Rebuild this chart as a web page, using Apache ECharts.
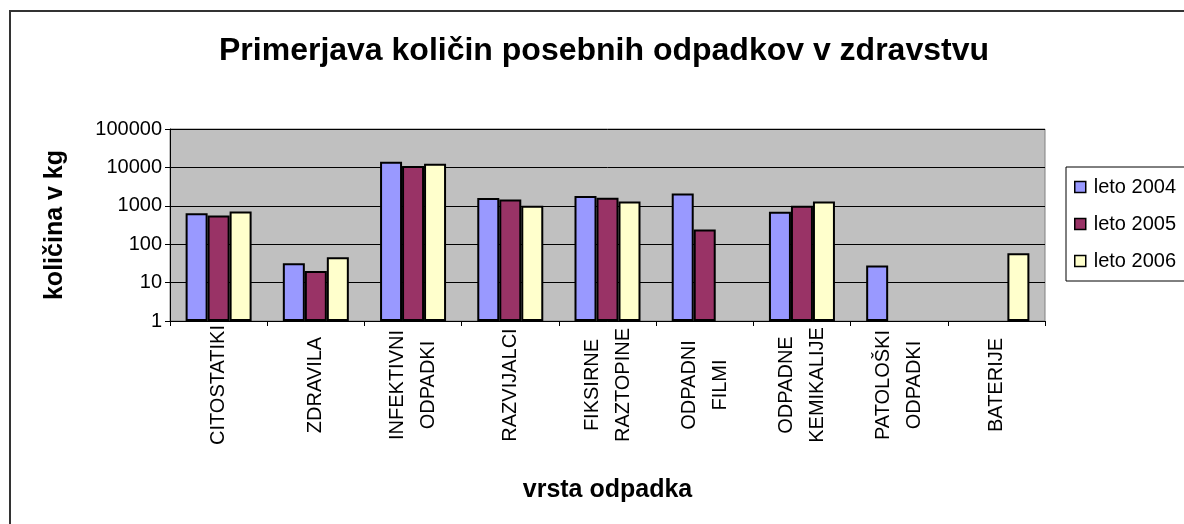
<!DOCTYPE html>
<html>
<head>
<meta charset="utf-8">
<title>Primerjava količin posebnih odpadkov v zdravstvu</title>
<script src="https://cdn.jsdelivr.net/npm/echarts@6/dist/echarts.min.js"></script>
<style>
  html, body { margin: 0; padding: 0; background: #fff; }
  #chart { width: 1184px; height: 524px; }
</style>
</head>
<body>
<div id="chart"></div>
<script>
// vrste odpadkov (kategorije)
const categories = ['CITOSTATIKI', 'ZDRAVILA', 'INFEKTIVNI\nODPADKI', 'RAZVIJALCI', 'FIKSIRNE\nRAZTOPINE',
  'ODPADNI\nFILMI', 'ODPADNE\nKEMIKALIJE', 'PATOLOŠKI\nODPADKI', 'BATERIJE'];
const seriesNames = ['leto 2004', 'leto 2005', 'leto 2006'];
// količine v kg, odčitane z grafa (null = ni podatka)
const leto2004 = [640, 32, 14000, 1600, 1800, 2100, 700, 28, null];
const leto2005 = [560, 20, 10800, 1450, 1630, 240, 1000, null, null];
const leto2006 = [710, 46, 12400, 1000, 1290, null, 1300, null, 58];
const colors = ['#9999FF', '#993366', '#FFFFCC'];

const font = '"Liberation Sans", Arial, sans-serif';

let myChart = echarts.init(document.getElementById('chart'));

function makeBar(name, data, color) {
  return {
    name: name,
    type: 'bar',
    data: data,
    barWidth: 22,
    barGap: '0%',
    itemStyle: {
      color: color,
      borderColor: '#000',
      borderWidth: 2
    }
  };
}

myChart.setOption({
  animation: false,
  textStyle: { fontFamily: font },
  title: {
    text: 'Primerjava količin posebnih odpadkov v zdravstvu',
    left: 599,
    top: 30,
    textAlign: 'center',
    textStyle: { fontFamily: font, fontSize: 32, fontWeight: 'bold', color: '#000' }
  },
  graphic: [{
    type: 'rect',
    shape: { x: 10, y: 11, width: 1300, height: 700 },
    style: { fill: 'none', stroke: '#333', lineWidth: 2 },
    silent: true
  }],
  legend: {
    orient: 'vertical',
    left: 1066,
    top: 167,
    data: seriesNames,
    icon: 'rect',
    itemWidth: 11,
    itemHeight: 11,
    itemGap: 17,
    padding: [10, 20, 10, 8],
    borderColor: '#000',
    borderWidth: 1,
    backgroundColor: '#fff',
    itemStyle: { borderColor: '#000', borderWidth: 1.5 },
    textStyle: { fontFamily: font, fontSize: 20, color: '#000', padding: [0, 0, 0, 3] }
  },
  grid: {
    left: 170,
    right: 139,
    top: 129,
    bottom: 203,
    show: true,
    backgroundColor: '#C0C0C0',
    borderColor: '#808080',
    borderWidth: 1,
    outerBoundsMode: 'none'
  },
  xAxis: {
    type: 'category',
    data: categories,
    name: 'vrsta odpadka',
    nameLocation: 'middle',
    nameGap: 157,
    nameTextStyle: { fontFamily: font, fontSize: 25, fontWeight: 'bold', color: '#000' },
    axisLine: { show: true, lineStyle: { color: '#000', width: 1 } },
    axisTick: { show: true, length: 5, alignWithLabel: false, lineStyle: { color: '#000' } },
    splitLine: { show: false },
    axisLabel: {
      interval: 0,
      rotate: 90,
      margin: 64,
      align: 'center',
      verticalAlign: 'middle',
      fontFamily: font,
      fontSize: 20,
      lineHeight: 31,
      color: '#000'
    }
  },
  yAxis: {
    type: 'log',
    logBase: 10,
    min: 1,
    max: 100000,
    name: 'količina v kg',
    nameLocation: 'middle',
    nameGap: 102,
    nameTextStyle: { fontFamily: font, fontSize: 25, fontWeight: 'bold', color: '#000' },
    axisLine: { show: true, lineStyle: { color: '#000', width: 1 } },
    axisTick: { show: true, length: 5, lineStyle: { color: '#000' } },
    splitLine: { show: true, lineStyle: { color: '#000', width: 1 } },
    axisLabel: {
      margin: 8,
      fontFamily: font,
      fontSize: 20,
      color: '#000',
      formatter: function (v) { return String(Math.round(v)); }
    }
  },
  series: [
    makeBar(seriesNames[0], leto2004, colors[0]),
    makeBar(seriesNames[1], leto2005, colors[1]),
    makeBar(seriesNames[2], leto2006, colors[2])
  ]
});
</script>
</body>
</html>
